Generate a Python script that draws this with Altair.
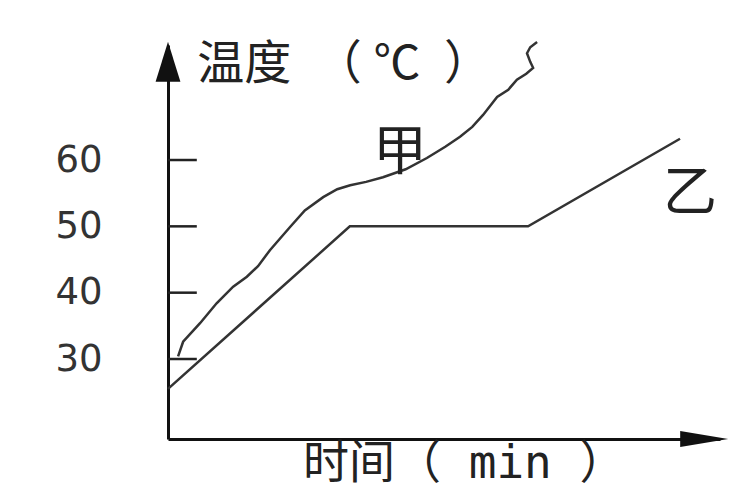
import altair as alt
import pandas as pd

# 甲 curve (time in arbitrary min units, temperature in °C)
jia_t = [0.28, 0.42, 0.89, 1.35, 1.81, 2.19, 2.5, 2.83, 3.39, 3.8, 4.31, 4.7, 5.06, 5.5, 5.97, 6.6, 7.19, 7.7, 8.11, 8.45, 8.75, 9.14, 9.45, 9.69, 9.95, 10.14, 10.06, 9.97, 10.06, 10.25]
jia_T = [30.4, 32.6, 35.4, 38.4, 40.9, 42.4, 44.0, 46.4, 49.9, 52.4, 54.4, 55.6, 56.2, 56.7, 57.4, 58.6, 60.3, 62.0, 63.5, 65.0, 66.8, 69.5, 70.6, 72.1, 73.0, 73.9, 74.8, 76.1, 77.0, 77.8]
# 乙 polyline
yi_t = [0.0, 5.05, 10.0, 14.22]
yi_T = [25.5, 50.0, 50.0, 63.2]

y_ticks = [30, 40, 50, 60]
t_min, t_max = 0.0, 15.33
T_min, T_max = 17.94, 77.34

font_cjk = "Noto Sans CJK SC"

jia = pd.DataFrame({"t": jia_t, "T": jia_T, "s": "甲", "o": range(len(jia_t))})
yi = pd.DataFrame({"t": yi_t, "T": yi_T, "s": "乙", "o": range(len(yi_t))})
lines = pd.concat([jia, yi])

xs = alt.Scale(domain=[t_min, t_max], nice=False, zero=False)
ys = alt.Scale(domain=[T_min, T_max], nice=False, zero=False)

base_axes = alt.Chart(pd.DataFrame({"t": [t_min], "T": [T_min]})).mark_point(opacity=0).encode(
    x=alt.X("t:Q", scale=xs, axis=alt.Axis(title=None, labels=False, ticks=False, grid=False,
                                          domainColor="#111", domainWidth=3)),
    y=alt.Y("T:Q", scale=ys, axis=alt.Axis(title=None, values=y_ticks, ticks=False, grid=False,
                                          domainColor="#111", domainWidth=3,
                                          labelFont="DejaVu Sans", labelFontSize=37,
                                          labelColor="#333", labelPadding=66)),
)

ticks = alt.Chart(pd.DataFrame({"T": y_ticks, "t0": [0.0] * 4, "t1": [0.8] * 4})).mark_rule(
    color="#222", strokeWidth=2.5).encode(
    x=alt.X("t0:Q", scale=xs), x2="t1:Q", y=alt.Y("T:Q", scale=ys))

line_chart = alt.Chart(lines).mark_line(color="#333", strokeWidth=2.5).encode(
    x=alt.X("t:Q", scale=xs), y=alt.Y("T:Q", scale=ys), detail="s:N", order="o:Q")

up_arrow = alt.Chart(pd.DataFrame({"t": [0.0], "T": [74.8]})).mark_point(
    shape="M0,-1L0.62,1L-0.62,1Z", size=1600, filled=True, color="#111", opacity=1).encode(
    x=alt.X("t:Q", scale=xs), y=alt.Y("T:Q", scale=ys))
right_arrow = alt.Chart(pd.DataFrame({"t": [14.89], "T": [T_min]})).mark_point(
    shape="M1,0L-1,-0.33L-1,0.33Z", size=2304, filled=True, color="#111", opacity=1).encode(
    x=alt.X("t:Q", scale=xs), y=alt.Y("T:Q", scale=ys))

y_title = alt.Chart(pd.DataFrame({"label": ["温度\u2002（\u2005℃\u2002）"], "t": [0.81], "T": [74.3]})).mark_text(
    font=font_cjk, fontSize=47, align="left", baseline="middle", color="#222").encode(
    x=alt.X("t:Q", scale=xs), y=alt.Y("T:Q", scale=ys), text="label:N")

x_title = alt.Chart(pd.DataFrame({"label": ["时间（ min ）"], "t": [3.75], "T": [14.1]})).mark_text(
    font="DejaVu Sans Mono, " + font_cjk, fontSize=46, align="left", baseline="middle",
    color="#222").encode(
    x=alt.X("t:Q", scale=xs), y=alt.Y("T:Q", scale=ys), text="label:N")

names = pd.DataFrame({"label": ["甲", "乙"], "t": [6.44, 14.5], "T": [60.9, 54.7]})
name_text = alt.Chart(names).mark_text(
    font=font_cjk, fontSize=54, align="center", baseline="middle", color="#222").encode(
    x=alt.X("t:Q", scale=xs), y=alt.Y("T:Q", scale=ys), text="label:N")

chart = alt.layer(base_axes, ticks, line_chart, up_arrow, right_arrow, y_title, x_title, name_text).properties(
    width=552, height=394,
    autosize=alt.AutoSizeParams(type="none"),
    padding={"left": 160, "top": 37, "right": 22, "bottom": 53},
).configure_view(stroke=None)

chart.save("out.html", embed_options={"renderer": "svg", "actions": False})
